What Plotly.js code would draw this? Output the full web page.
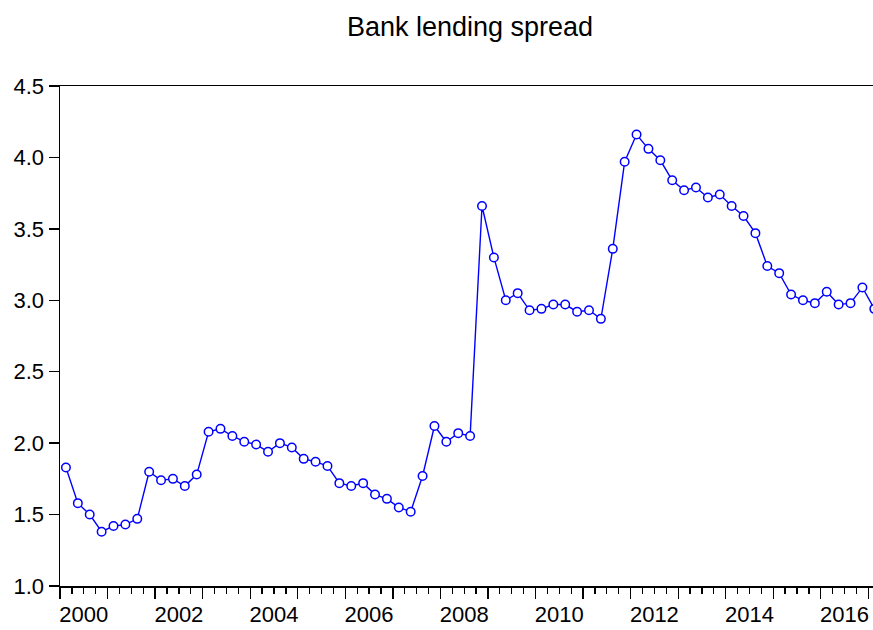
<!DOCTYPE html>
<html>
<head>
<meta charset="utf-8">
<script src="https://cdn.plot.ly/plotly-3.0.1.min.js"></script>
<style>
html, body { margin: 0; padding: 0; background: #ffffff; overflow: hidden; }
#chart { width: 873px; height: 630px; }
</style>
</head>
<body>
<div id="chart"></div>
<script>
// Quarterly observations (2000Q1 .. 2017Q1)
const quarters = [
  "2000Q1","2000Q2","2000Q3","2000Q4",
  "2001Q1","2001Q2","2001Q3","2001Q4",
  "2002Q1","2002Q2","2002Q3","2002Q4",
  "2003Q1","2003Q2","2003Q3","2003Q4",
  "2004Q1","2004Q2","2004Q3","2004Q4",
  "2005Q1","2005Q2","2005Q3","2005Q4",
  "2006Q1","2006Q2","2006Q3","2006Q4",
  "2007Q1","2007Q2","2007Q3","2007Q4",
  "2008Q1","2008Q2","2008Q3","2008Q4",
  "2009Q1","2009Q2","2009Q3","2009Q4",
  "2010Q1","2010Q2","2010Q3","2010Q4",
  "2011Q1","2011Q2","2011Q3","2011Q4",
  "2012Q1","2012Q2","2012Q3","2012Q4",
  "2013Q1","2013Q2","2013Q3","2013Q4",
  "2014Q1","2014Q2","2014Q3","2014Q4",
  "2015Q1","2015Q2","2015Q3","2015Q4",
  "2016Q1","2016Q2","2016Q3","2016Q4",
  "2017Q1"
];

// Bank lending spread values
const spread = [
  1.83, 1.58, 1.50, 1.38,
  1.42, 1.43, 1.47, 1.80,
  1.74, 1.75, 1.70, 1.78,
  2.08, 2.10, 2.05, 2.01,
  1.99, 1.94, 2.00, 1.97,
  1.89, 1.87, 1.84, 1.72,
  1.70, 1.72, 1.64, 1.61,
  1.55, 1.52, 1.77, 2.12,
  2.01, 2.07, 2.05, 3.66,
  3.30, 3.00, 3.05, 2.93,
  2.94, 2.97, 2.97, 2.92,
  2.93, 2.87, 3.36, 3.97,
  4.16, 4.06, 3.98, 3.84,
  3.77, 3.79, 3.72, 3.74,
  3.66, 3.59, 3.47, 3.24,
  3.19, 3.04, 3.00, 2.98,
  3.06, 2.97, 2.98, 3.09,
  2.94
];

// Axis tick labels
const xLabelYears = [2000, 2002, 2004, 2006, 2008, 2010, 2012, 2014, 2016];
const yearBoundaries = [2000,2001,2002,2003,2004,2005,2006,2007,2008,2009,2010,2011,2012,2013,2014,2015,2016,2017];
const yTickVals = [1.0, 1.5, 2.0, 2.5, 3.0, 3.5, 4.0, 4.5];
const yTickText = ["1.0", "1.5", "2.0", "2.5", "3.0", "3.5", "4.0", "4.5"];
const chartTitle = "Bank lending spread";

// quarter label -> position at the middle of the quarter on a year scale
function quarterPos(label) {
  const yr = parseInt(label.slice(0, 4), 10);
  const q = parseInt(label.slice(5), 10);
  return yr + (q - 1) / 4 + 0.125;
}
// start of each non-first quarter (minor tick positions)
const quarterStarts = quarters
  .filter(q => !q.endsWith("Q1"))
  .map(q => quarterPos(q) - 0.125);

const FONT = "Liberation Sans, Arial, Helvetica, sans-serif";
const W = 873, H = 630, L = 60, R = 0, T = 86, B = 44;
const pxPerYear = 47.55;
const xRange = [2000, 2000 + (W - L - R) / pxPerYear];

const traces = [
  {
    type: "scatter",
    mode: "lines+markers",
    x: quarters.map(quarterPos),
    y: spread,
    line: { color: "#0000FF", width: 1.4 },
    marker: { symbol: "circle", size: 8.5, color: "#FFFFFF", line: { color: "#0000FF", width: 1.5 } },
    hoverinfo: "skip",
    showlegend: false
  },
  {
    type: "scatter",
    mode: "markers",
    x: [],
    y: [],
    xaxis: "x2",
    yaxis: "y",
    hoverinfo: "skip",
    showlegend: false
  }
];

const layout = {
  width: W,
  height: H,
  margin: { l: L, r: R, t: T, b: B, pad: 0 },
  paper_bgcolor: "#FFFFFF",
  plot_bgcolor: "#FFFFFF",
  font: { family: FONT, color: "#000000", size: 22 },
  showlegend: false,
  title: {
    text: chartTitle,
    font: { family: FONT, size: 27, color: "#000000" },
    xref: "container",
    yref: "container",
    x: 470 / W,
    xanchor: "center",
    y: 1 - 27 / H,
    yanchor: "middle"
  },
  xaxis: {
    range: xRange,
    tickmode: "array",
    tickvals: xLabelYears.map(y => y + 0.5),
    ticktext: xLabelYears.map(String),
    ticks: "",
    ticklabelstandoff: 8,
    tickfont: { family: FONT, size: 22, color: "#000000" },
    showline: true,
    linecolor: "#000000",
    linewidth: 1.5,
    mirror: true,
    showgrid: false,
    zeroline: false,
    fixedrange: true
  },
  xaxis2: {
    overlaying: "x",
    anchor: "y",
    side: "bottom",
    range: xRange,
    tickmode: "array",
    tickvals: yearBoundaries,
    showticklabels: false,
    ticks: "outside",
    ticklen: 12,
    tickwidth: 1.3,
    tickcolor: "#000000",
    minor: { tickmode: "array", tickvals: quarterStarts, ticks: "outside", ticklen: 7, tickwidth: 1.3, tickcolor: "#000000", showgrid: false },
    showline: false,
    showgrid: false,
    zeroline: false,
    fixedrange: true
  },
  yaxis: {
    range: [1.0, 4.5],
    tickmode: "array",
    tickvals: yTickVals,
    ticktext: yTickText,
    ticks: "outside",
    ticklen: 10,
    tickwidth: 1.3,
    tickcolor: "#000000",
    tickfont: { family: FONT, size: 22, color: "#000000" },
    showline: true,
    linecolor: "#000000",
    linewidth: 1.5,
    mirror: false,
    showgrid: false,
    zeroline: false,
    fixedrange: true
  }
};

Plotly.newPlot("chart", traces, layout, { staticPlot: true, displayModeBar: false });
</script>
</body>
</html>
